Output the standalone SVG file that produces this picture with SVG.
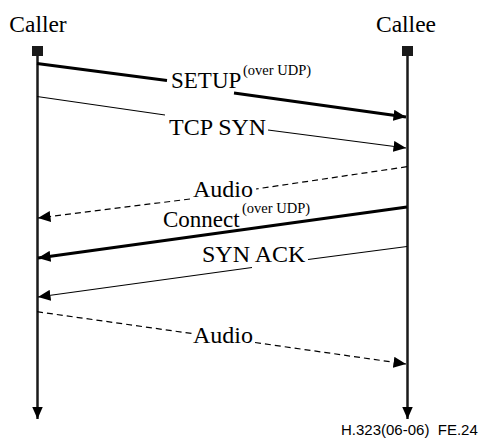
<svg xmlns="http://www.w3.org/2000/svg" width="481" height="441" viewBox="0 0 481 441">
<style>
.t{font-family:"Liberation Serif","Times New Roman",serif;font-size:24px;fill:#000}
.h{font-family:"Liberation Serif","Times New Roman",serif;font-size:23.5px;fill:#000}
.m{font-family:"Liberation Serif","Times New Roman",serif;font-size:23px;fill:#000}
.s{font-family:"Liberation Serif","Times New Roman",serif;font-size:14.5px;fill:#000}
.f{font-family:"Liberation Sans",Arial,sans-serif;font-size:15px;fill:#000}
.life{stroke:#1a1a1a;stroke-width:2.5;fill:none}
.thick{stroke:#000;stroke-width:3;fill:none}
.thin{stroke:#000;stroke-width:1.2;fill:none}
.dash{stroke:#000;stroke-width:1.2;fill:none;stroke-dasharray:6,4}
</style>
<defs>
<marker id="ah" markerUnits="userSpaceOnUse" markerWidth="13" markerHeight="11" refX="12.5" refY="5.5" orient="auto">
<path d="M0,0 L12.5,5.5 L0,11 z" fill="#000"/>
</marker>
</defs>
<g id="caller">
<text class="h" x="38" y="32" text-anchor="middle">Caller</text>
<rect x="32" y="46" width="11" height="10" fill="#1a1a1a"/>
<line class="life" x1="37.5" y1="55" x2="37.5" y2="419" marker-end="url(#ah)"/>
</g>
<g id="callee">
<text class="h" x="406" y="32" text-anchor="middle">Callee</text>
<rect x="402" y="46" width="11" height="10" fill="#1a1a1a"/>
<line class="life" x1="407.5" y1="55" x2="407.5" y2="419" marker-end="url(#ah)"/>
</g>
<g id="connectors">
<line class="thick" x1="37" y1="63.5" x2="167" y2="80.5"/>
<line class="thick" x1="234" y1="93" x2="406" y2="117" marker-end="url(#ah)"/>
<line class="thin" x1="37" y1="96.5" x2="165" y2="115"/>
<line class="thin" x1="268" y1="130" x2="406" y2="148" marker-end="url(#ah)"/>
<line class="dash" x1="407" y1="166.7" x2="256" y2="189"/>
<line class="dash" x1="190" y1="199" x2="38" y2="218" marker-end="url(#ah)"/>
<line class="thick" x1="407" y1="207" x2="38" y2="258" marker-end="url(#ah)"/>
<line class="thin" x1="407" y1="246.5" x2="308" y2="259.5"/>
<line class="thin" x1="252" y1="267.5" x2="38" y2="297" marker-end="url(#ah)"/>
<line class="dash" x1="37" y1="311.7" x2="191.7" y2="333.5"/>
<line class="dash" x1="255" y1="342.5" x2="406" y2="364" marker-end="url(#ah)"/>
</g>
<g id="labels">
<text class="m" x="171" y="88">SETUP</text>
<text class="s" x="243" y="75">(over UDP)</text>
<text class="t" x="169" y="135">TCP SYN</text>
<text class="t" x="193" y="197">Audio</text>
<text class="m" x="163" y="227">Connect</text>
<text class="s" x="242" y="213">(over UDP)</text>
<text class="t" x="202" y="262">SYN ACK</text>
<text class="t" x="193" y="343">Audio</text>
<text class="f" x="341" y="435" xml:space="preserve">H.323(06-06)  FE.24</text>
</g>
</svg>
